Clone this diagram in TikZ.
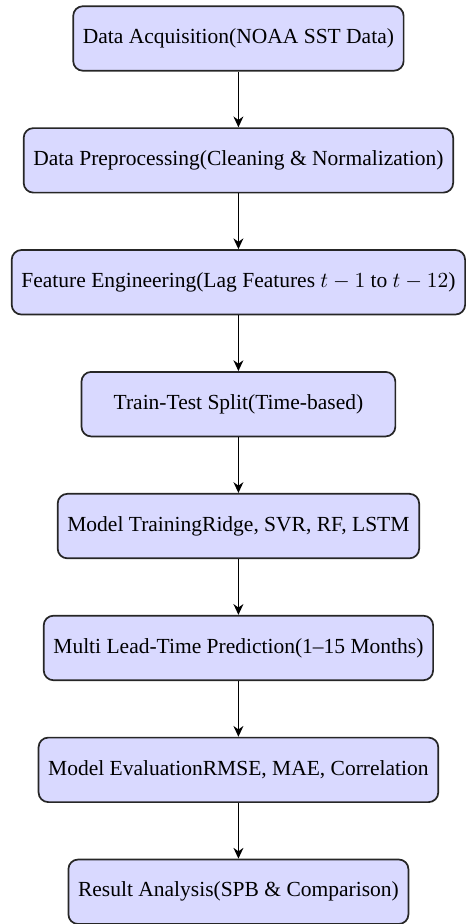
\documentclass[tikz,border=0pt]{standalone}
\usepackage{fontspec}
\setmainfont{Liberation Serif}
\usetikzlibrary{arrows.meta}

\tikzset{
  stepbox/.style={draw=black!85, thick, rounded corners=4.5pt, fill=blue!15,
    minimum height=30pt, inner xsep=4.5pt, anchor=center,
    font=\fontsize{10}{12}\selectfont},
  flowarrow/.style={thick, -{Stealth[length=5pt,width=4.6pt,inset=1.6pt]}}
}

\begin{document}
\begin{tikzpicture}[x=1pt,y=1pt]
  \useasboundingbox (0,0) rectangle (216.7,-429.8);

  % pipeline stages, top to bottom
  \node[stepbox] (acq)   at (110.9,-17.9)  {Data Acquisition(NOAA SST Data)};
  \node[stepbox] (prep)  at (110.9,-74.6)  {Data Preprocessing(Cleaning \& Normalization)};
  \node[stepbox] (feat)  at (110.9,-131.3) {Feature Engineering(Lag Features $t-1$ to $t-12$)};
  \node[stepbox, minimum width=146pt] (split) at (110.9,-188.0) {Train-Test Split(Time-based)};
  \node[stepbox] (train) at (110.9,-244.7) {Model TrainingRidge, SVR, RF, LSTM};
  \node[stepbox] (pred)  at (110.9,-301.4) {Multi Lead-Time Prediction(1--15 Months)};
  \node[stepbox] (eval)  at (110.9,-358.1) {Model EvaluationRMSE, MAE, Correlation};
  \node[stepbox] (res)   at (110.9,-414.8) {Result Analysis(SPB \& Comparison)};

  % connectors
  \draw[flowarrow] (acq)   -- (prep);
  \draw[flowarrow] (prep)  -- (feat);
  \draw[flowarrow] (feat)  -- (split);
  \draw[flowarrow] (split) -- (train);
  \draw[flowarrow] (train) -- (pred);
  \draw[flowarrow] (pred)  -- (eval);
  \draw[flowarrow] (eval)  -- (res);
\end{tikzpicture}
\end{document}
